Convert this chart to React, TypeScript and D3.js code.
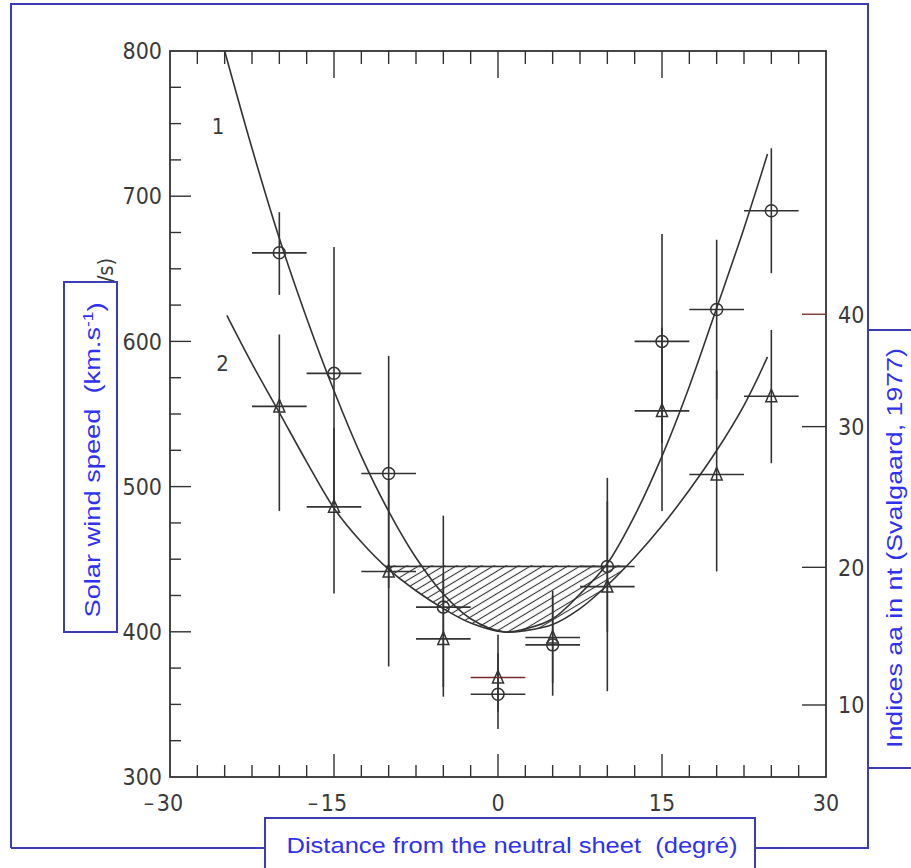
import React from 'react';
import * as d3 from 'd3';

// distance from the neutral sheet (deg) for the binned points
const degrees = [-20, -15, -10, -5, 0, 5, 10, 15, 20, 25];
// solar wind speed (km/s), circles
const windSpeed = [661, 578, 509, 417, 357, 391, 445, 600, 622, 690];
const windLow = [632, 488, 430, 362, 333, 356, 400, 530, 560, 647];
const windHigh = [689, 665, 590, 480, 385, 425, 506, 674, 670, 733];
// aa index (nT), triangles
const aaIndex = [31.8, 24.3, 19.7, 14.8, 12.0, 14.9, 18.6, 31.4, 26.6, 32.7];
const aaLow = [24.0, 18.1, 12.8, 10.6, 9.5, 11.6, 11.0, 24.0, 19.7, 27.4];
const aaHigh = [38.2, 29.9, 26.3, 19.5, 15.1, 18.3, 24.7, 38.8, 35.0, 38.6];
const degErr = 2.5;

// fitted curve 1 (speed)
const curve1Deg = [-25, -22.5, -20, -17.5, -15, -12.5, -10, -7.5, -5, -2.5, 0.5, 2.5, 5, 7.5, 10, 12.5, 15, 17.5, 20, 22.5, 24.65];
const curve1Speed = [800, 733, 671, 616, 566, 521, 483, 451, 426, 409, 400, 402, 409, 426, 447, 480, 521, 569, 623, 678, 729];
// fitted curve 2 (aa)
const curve2Deg = [-24.8, -22.5, -20, -17.5, -15, -12.5, -10, -7.5, -5, -2.5, 0.5, 2.5, 5, 7.5, 10, 12.5, 15, 17.5, 20, 22.5, 24.65];
const curve2Aa = [39.9, 35.6, 31.25, 27.5, 24.2, 21.8, 19.85, 18.3, 17.0, 15.95, 15.3, 15.4, 15.85, 17.0, 18.7, 20.7, 22.95, 25.5, 28.3, 31.9, 36.2];

const shadeLevel = 445;

// axes
const speedTicks = [300, 400, 500, 600, 700, 800];
const degTicks = [-30, -15, 0, 15, 30];
const aaTicks = [10, 20, 30, 40];
// speed value on the left scale where each aa tick sits
const aaTickSpeed = [349.6, 444.4, 541.3, 618.7];

const curveLabels = [
    { text: '1', deg: -25.6, speed: 748 },
    { text: '2', deg: -25.2, speed: 585 },
];

const numFont = "'DejaVu Sans Condensed', 'DejaVu Sans', sans-serif";
const labelFont = "'Liberation Sans', Arial, sans-serif";
const ink = '#333';
const blue = '#3c3cb4';
const blueText = '#3030f0';

export default function App() {
    const x = d3.scaleLinear().domain([-30, 30]).range([170, 826]);
    const y = d3.scaleLinear().domain([300, 800]).range([777, 51]);
    const aaToSpeed = d3.scaleLinear().domain(aaTicks).range(aaTickSpeed);
    const yA = (v: number) => y(aaToSpeed(v));

    const c1 = curve1Deg.map((d, i) => [x(d), y(curve1Speed[i])] as [number, number]);
    const c2 = curve2Deg.map((d, i) => [x(d), yA(curve2Aa[i])] as [number, number]);
    const line = d3.line().curve(d3.curveCatmullRom.alpha(0.5));
    const above = d3.area<[number, number]>()
        .x(d => d[0]).y0(y(800)).y1(d => d[1])
        .curve(d3.curveCatmullRom.alpha(0.5));

    const minor = d3.range(-27.5, 30, 2.5);
    const isMajor = (v: number) => Math.abs(v % 15) < 1e-6;
    const leftMinor = d3.range(325, 800, 25);

    const [x0, x1] = x.range();
    const [yb, yt] = y.range();

    return (
        <svg width={911} height={868} style={{ position: 'absolute', left: 0, top: 0, background: '#fff' }}>
            <defs>
                <pattern id="hatch" patternUnits="userSpaceOnUse" width={20} height={6.4} patternTransform="rotate(-31)">
                    <path d="M0,3.2 H20" stroke={ink} strokeWidth={1.1} />
                </pattern>
                <clipPath id="aboveCurves">
                    <path d={above(c1) || ''} />
                    <path d={above(c2) || ''} />
                </clipPath>
                <clipPath id="band">
                    <rect x={x0} y={y(shadeLevel) - 1.2} width={x1 - x0} height={yb - y(shadeLevel)} />
                </clipPath>
            </defs>

            {/* blue outer frame */}
            <g stroke={blue} strokeWidth={2} fill="none">
                <path d="M11,848 V4 H868 V330" />
                <path d="M868,768 V848 H755" />
                <path d="M265,848 H11" />
            </g>

            {/* shaded region */}
            <g clipPath="url(#aboveCurves)">
                <g clipPath="url(#band)">
                    <rect x={x0} y={yt} width={x1 - x0} height={yb - yt} fill="url(#hatch)" />
                    <line x1={x0} x2={x1} y1={y(shadeLevel)} y2={y(shadeLevel)} stroke={ink} strokeWidth={1.8} />
                </g>
            </g>

            {/* frame */}
            <rect x={x0} y={yt} width={x1 - x0} height={yb - yt} fill="none" stroke={ink} strokeWidth={1.8} />

            {/* ticks */}
            <g stroke={ink} strokeWidth={1.4}>
                {minor.map(v => (
                    <g key={v}>
                        <line x1={x(v)} x2={x(v)} y1={yt} y2={yt + (isMajor(v) ? 27 : 13)} />
                        <line x1={x(v)} x2={x(v)} y1={yb} y2={yb - (isMajor(v) ? 23 : 12)} />
                    </g>
                ))}
                {leftMinor.map(v => (
                    <line key={v} x1={x0} x2={x0 + (v % 100 === 0 ? 21 : 11)} y1={y(v)} y2={y(v)} />
                ))}
                {aaTicks.map(v => (
                    <line key={v} x1={x1 - 24} x2={x1} y1={yA(v)} y2={yA(v)}
                        stroke={v === 40 ? '#7a3a30' : ink} />
                ))}
            </g>

            {/* tick labels */}
            <g fontFamily={numFont} fontSize={23} fill="#3a3a3a" style={{ fontStretch: 'condensed' }}>
                {speedTicks.map(v => (
                    <text key={v} x={x0 - 8} y={y(v)} dy="0.36em" textAnchor="end">{v}</text>
                ))}
                {degTicks.map(v => (
                    <g key={v}>
                        <text x={x(v)} y={yb + 26} dy="0.36em" textAnchor="middle">{Math.abs(v)}</text>
                        {v < 0 && <text x={x(v) - 16} y={yb + 26} dy="0.36em" textAnchor="end">–</text>}
                    </g>
                ))}
                {aaTicks.map(v => (
                    <text key={v} x={x1 + 12} y={yA(v)} dy="0.36em" textAnchor="start">{v}</text>
                ))}
                {curveLabels.map(l => (
                    <text key={l.text} x={x(l.deg)} y={y(l.speed)} dy="0.36em" textAnchor="middle" fontSize={22}>{l.text}</text>
                ))}
                <text transform="translate(105,270) rotate(-90)" textAnchor="middle" dy="0.36em" fontSize={22}>/s)</text>
            </g>

            {/* fitted curves */}
            <path d={line(c1) || ''} fill="none" stroke={ink} strokeWidth={1.6} />
            <path d={line(c2) || ''} fill="none" stroke={ink} strokeWidth={1.6} />

            {/* error bars */}
            <g stroke={ink} strokeWidth={1.6}>
                {degrees.map((d, i) => (
                    <g key={'w' + d}>
                        <line x1={x(d)} x2={x(d)} y1={y(windLow[i])} y2={y(windHigh[i])} />
                        <line x1={x(d - degErr)} x2={x(d + degErr)} y1={y(windSpeed[i])} y2={y(windSpeed[i])} />
                    </g>
                ))}
                {degrees.map((d, i) => (
                    <g key={'a' + d}>
                        <line x1={x(d)} x2={x(d)} y1={yA(aaLow[i])} y2={yA(aaHigh[i])} />
                        <line x1={x(d - degErr)} x2={x(d + degErr)} y1={yA(aaIndex[i])} y2={yA(aaIndex[i])}
                            stroke={d === 0 ? '#7a2a2a' : ink} />
                    </g>
                ))}
            </g>

            {/* markers */}
            <g fill="none" stroke={ink} strokeWidth={1.5}>
                {degrees.map((d, i) => (
                    <circle key={'c' + d} cx={x(d)} cy={y(windSpeed[i])} r={6} />
                ))}
                {degrees.map((d, i) => {
                    const cx = x(d), cy = yA(aaIndex[i]);
                    return <path key={'t' + d} d={`M${cx},${cy - 7} L${cx + 5.5},${cy + 5.5} L${cx - 5.5},${cy + 5.5} Z`} />;
                })}
            </g>

            {/* blue label boxes */}
            <g fontFamily={labelFont} fill={blueText} fontSize={22}>
                <rect x={64} y={282} width={53} height={350} fill="#fff" stroke={blue} strokeWidth={2} />
                <text transform="translate(92,460) rotate(-90)" textAnchor="middle" dy="0.35em"
                    textLength={315} lengthAdjust="spacingAndGlyphs" style={{ whiteSpace: 'pre' }}>
                    Solar wind speed  (km.s<tspan dy="-0.45em" fontSize={14}>-1</tspan><tspan dy="0.45em">)</tspan>
                </text>

                <rect x={265} y={818} width={490} height={60} fill="#fff" stroke={blue} strokeWidth={2} />
                <text x={512} y={845} dy="0.35em" textAnchor="middle"
                    textLength={451} lengthAdjust="spacingAndGlyphs" style={{ whiteSpace: 'pre' }}>
                    Distance from the neutral sheet  (degré)
                </text>

                <rect x={868} y={330} width={50} height={438} fill="#fff" stroke={blue} strokeWidth={2} />
                <text transform="translate(894,548) rotate(-90)" textAnchor="middle" dy="0.35em"
                    textLength={400} lengthAdjust="spacingAndGlyphs">
                    Indices aa in nt (Svalgaard, 1977)
                </text>
            </g>
        </svg>
    );
}
